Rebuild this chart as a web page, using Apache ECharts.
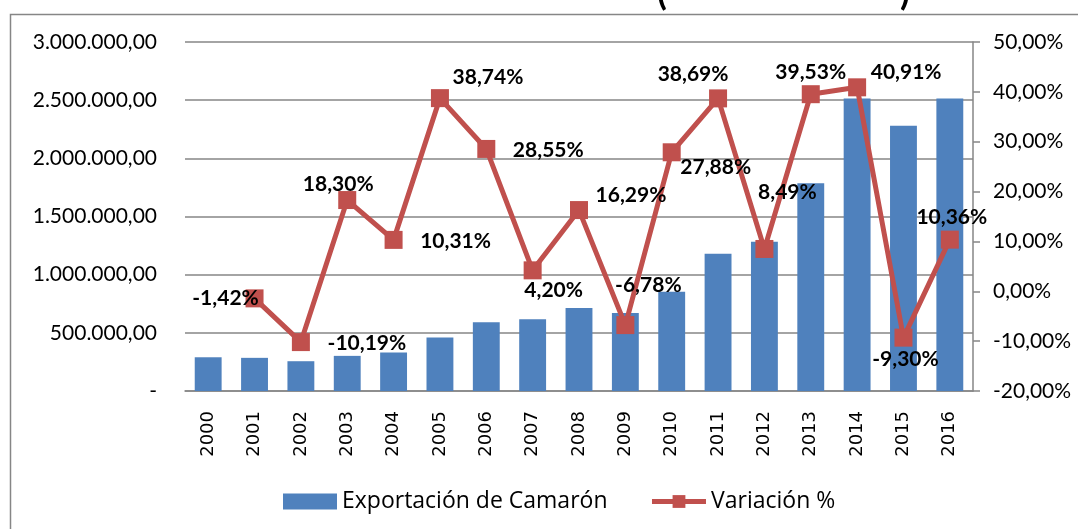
<!DOCTYPE html>
<html>
<head>
<meta charset="utf-8">
<script src="https://cdn.jsdelivr.net/npm/echarts@6/dist/echarts.min.js"></script>
<style>
html,body{margin:0;padding:0;background:#fff;}
#chart{width:1078px;height:529px;}
</style>
</head>
<body>
<div id="chart"></div>
<script>
const years = ['2000','2001','2002','2003','2004','2005','2006','2007','2008','2009','2010','2011','2012','2013','2014','2015','2016'];
const exportacion = [290000, 285000, 256000, 302000, 330000, 459000, 590000, 616000, 713000, 670000, 853000, 1179000, 1282000, 1786000, 2514000, 2280000, 2514000];
const variacion = [null, -1.42, -10.19, 18.30, 10.31, 38.74, 28.55, 4.20, 16.29, -6.78, 27.88, 38.69, 8.49, 39.53, 40.91, -9.30, 10.36];
const leftTicks = [0, 500000, 1000000, 1500000, 2000000, 2500000, 3000000];
const rightTicks = [-20, -10, 0, 10, 20, 30, 40, 50];
const seriesNames = ['Exportación de Camarón', 'Variación %'];

// label offsets (px) from each marker centre, layout only
const labelOffsets = [[0,0],[-29,0],[66,1],[-9,-16],[62,1],[48,-21],[62,1],[21,20],[52,-15],[23,-40],[44,15],[-25,-24],[23,-57],[0,-22],[49,-15],[2,22],[2,-22]];

function fmtThousands(v){
  if (v === 0) return '-';
  const s = Math.round(v).toString().replace(/\B(?=(\d{3})+(?!\d))/g, '.');
  return s + ',00';
}
function fmtPct(v){ return v.toFixed(2).replace('.', ',') + '%'; }

const lineData = variacion.map((v, i) => v === null ? null : {
  value: v,
  label: { offset: labelOffsets[i] }
});

const chart = echarts.init(document.getElementById('chart'), null, {renderer:'canvas'});
chart.setOption({
  animation: false,
  backgroundColor: '#ffffff',
  textStyle: { fontFamily: 'Lato' },
  graphic: [
    { type: 'rect', left: 8, top: 12, shape: { width: 1080, height: 540 }, style: { fill: 'none', stroke: '#868686', lineWidth: 1.5 }, z: -1 },
    { type: 'text', left: 657, top: -25, style: { text: '(', font: 'bold 36px Lato', fill: '#000' } },
    { type: 'text', left: 900, top: -25, style: { text: ')', font: 'bold 36px Lato', fill: '#000' } }
  ],
  grid: { left: 185, right: 105, top: 42, bottom: 138, containLabel: false },
  legend: {
    data: [
      { name: seriesNames[0], icon: 'rect' },
      { name: seriesNames[1], lineStyle: { width: 5 } }
    ],
    bottom: 11,
    left: 278,
    itemWidth: 54,
    itemHeight: 16,
    itemGap: 42,
    textStyle: { fontFamily: 'Open Sans', fontSize: 23, color: '#000' }
  },
  xAxis: {
    type: 'category',
    data: years,
    axisLine: { lineStyle: { color: '#868686', width: 1.5 } },
    axisTick: { show: false },
    axisLabel: { rotate: 90, margin: 20, fontFamily: 'DejaVu Sans', fontSize: 18, color: '#000' }
  },
  yAxis: [
    {
      type: 'value', min: leftTicks[0], max: leftTicks[leftTicks.length-1], interval: leftTicks[1]-leftTicks[0],
      axisLine: { show: false }, axisTick: { show: false },
      splitLine: { lineStyle: { color: '#868686', width: 1.5 } },
      axisLabel: { formatter: fmtThousands, margin: 28, fontFamily: 'Lato', fontSize: 21, color: '#000' }
    },
    {
      type: 'value', min: rightTicks[0], max: rightTicks[rightTicks.length-1], interval: rightTicks[1]-rightTicks[0],
      axisLine: { show: true, lineStyle: { color: '#868686', width: 1.5 } },
      axisTick: { show: true, inside: false, length: 7, lineStyle: { color: '#868686', width: 1.5 } },
      splitLine: { show: false },
      axisLabel: { formatter: fmtPct, margin: 20, fontFamily: 'Lato', fontSize: 21, color: '#000' }
    }
  ],
  series: [
    {
      name: seriesNames[0], type: 'bar', data: exportacion, yAxisIndex: 0,
      barCategoryGap: '42%',
      itemStyle: { color: '#4F81BD' }
    },
    {
      name: seriesNames[1], type: 'line', data: lineData, yAxisIndex: 1,
      symbol: 'rect', symbolSize: 18,
      lineStyle: { color: '#C0504D', width: 5 },
      itemStyle: { color: '#C0504D' },
      z: 5,
      label: {
        show: true, position: 'inside',
        formatter: p => fmtPct(p.value),
        fontFamily: 'Lato', fontWeight: 'bold', fontSize: 21, color: '#000'
      }
    }
  ]
});
</script>
</body>
</html>
